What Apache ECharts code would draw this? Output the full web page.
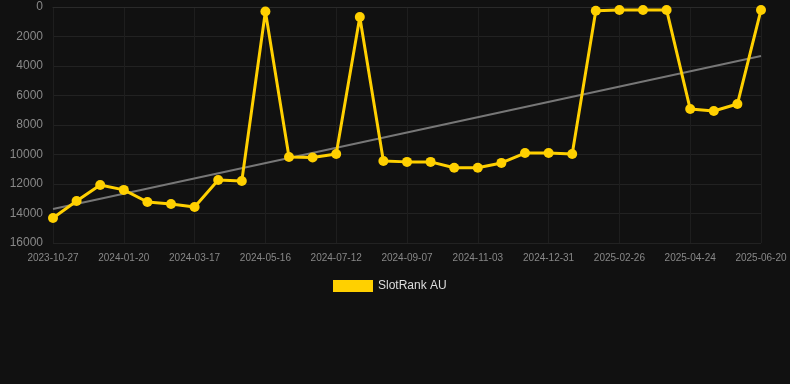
<!DOCTYPE html>
<html>
<head>
<meta charset="utf-8">
<script src="https://cdn.jsdelivr.net/npm/echarts@6/dist/echarts.min.js"></script>
<style>
html,body{margin:0;padding:0;background:#111111;}
#c{width:790px;height:384px;}
</style>
</head>
<body>
<div id="c"></div>
<script>
var categories = [
  '2023-10-27','2023-11-25','2023-12-23','2024-01-20','2024-02-08','2024-02-27',
  '2024-03-17','2024-04-06','2024-04-26','2024-05-16','2024-06-04','2024-06-23',
  '2024-07-12','2024-07-31','2024-08-19','2024-09-07','2024-09-26','2024-10-15',
  '2024-11-03','2024-11-22','2024-12-12','2024-12-31','2025-01-19','2025-02-07',
  '2025-02-26','2025-03-17','2025-04-05','2025-04-24','2025-05-13','2025-06-01',
  '2025-06-20'
];
var rankValues = [
  14300, 13150, 12070, 12400, 13220, 13350,
  13560, 11730, 11800, 300, 10170, 10200,
  9970, 680, 10440, 10500, 10500, 10900,
  10900, 10570, 9900, 9900, 9970, 250,
  200, 200, 200, 6920, 7050, 6580,
  200
];
var trendStart = 13700;
var trendEnd = 3320;
var yTicks = [0, 2000, 4000, 6000, 8000, 10000, 12000, 14000, 16000];

var trendData = categories.map(function (c, i) {
  if (i === 0) return trendStart;
  if (i === categories.length - 1) return trendEnd;
  return null;
});

var chart = echarts.init(document.getElementById('c'));
chart.setOption({
  backgroundColor: '#111111',
  animation: false,
  grid: { left: 53, right: 29, top: 7, bottom: 141, containLabel: false },
  legend: {
    bottom: 87,
    left: 328,
    data: [{ name: 'SlotRank AU', icon: 'rect' }],
    itemWidth: 40,
    itemHeight: 12,
    textStyle: { color: '#dddddd', fontSize: 12, fontFamily: 'Liberation Sans, Arial, sans-serif' }
  },
  xAxis: {
    type: 'category',
    data: categories,
    boundaryGap: false,
    axisLine: { lineStyle: { color: '#2a2a2a' } },
    axisTick: { show: false },
    axisLabel: { interval: 2, color: '#888888', fontSize: 10, margin: 10, fontFamily: 'Liberation Sans, Arial, sans-serif' },
    splitLine: { show: true, interval: 2, lineStyle: { color: '#1e1e1e' } }
  },
  yAxis: {
    type: 'value',
    inverse: true,
    min: yTicks[0],
    max: yTicks[yTicks.length - 1],
    interval: 2000,
    axisLine: { show: false },
    axisTick: { show: false },
    axisLabel: {
      color: '#888888', fontSize: 12, margin: 10,
      fontFamily: 'Liberation Sans, Arial, sans-serif',
      formatter: function (v) { return String(v); }
    },
    splitLine: { lineStyle: { color: '#222222' } }
  },
  series: [
    {
      name: 'Trend',
      type: 'line',
      data: trendData,
      connectNulls: true,
      symbol: 'none',
      lineStyle: { color: '#777777', width: 2 },
      z: 1,
      silent: true
    },
    {
      name: 'SlotRank AU',
      type: 'line',
      data: rankValues,
      symbol: 'circle',
      symbolSize: 10,
      itemStyle: { color: '#ffd000' },
      lineStyle: { color: '#ffd000', width: 3 },
      z: 2
    }
  ]
});
</script>
</body>
</html>
